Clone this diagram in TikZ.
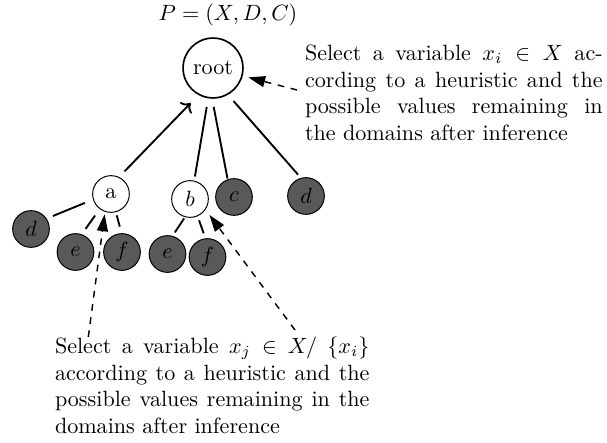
\documentclass[tikz,border=0pt]{standalone}
\usetikzlibrary{arrows.meta}
\begin{document}
\begin{tikzpicture}[x=0.4525pt,y=-0.4525pt,
  every node/.style={inner sep=0pt, outer sep=0pt},
  rootnode/.style={circle,draw,line width=0.75pt,minimum size=27.1pt},
  opennode/.style={circle,draw,line width=0.45pt,minimum size=16.6pt,fill=white},
  donenode/.style={circle,draw,line width=0.45pt,minimum size=16.6pt,fill=black!65},
  edge/.style={line width=0.85pt},
  note/.style={dashed,line width=0.65pt,-{Triangle[length=7.6pt,width=5pt]}},
  txt/.style={align=justify, anchor=north west}]
\useasboundingbox (0,0) rectangle (607,442);

\node[rootnode] (root) at (213,68) {root};
\node[anchor=base] (P) at (228,20) {$P=(X,D,C)$};
\node[opennode] (a) at (111,194) {a};
\node[opennode] (b) at (190,199) {$b$};
\node[donenode] (c) at (234,197) {$c$};
\node[donenode] (dR) at (306,196) {$d$};
\node[donenode] (dL) at (31,229) {$d$};
\node[donenode] (e1) at (75.5,252) {$e$};
\node[donenode] (f1) at (122,252) {$f$};
\node[donenode] (e2) at (167.5,254) {$e$};
\node[donenode] (f2) at (207.5,257) {$f$};

\draw[edge,->,shorten <=3.8pt,shorten >=5.4pt] (a.65) -- (root.242);
\draw[edge,shorten <=4.3pt,shorten >=2.1pt] (root.261) -- (b.77);
\draw[edge,shorten <=4.1pt,shorten >=0.6pt] (root.268) -- (c.110);
\draw[edge,shorten <=4.1pt,shorten >=2.2pt] (root.299) -- (dR.105);
\draw[edge,shorten <=4.2pt,shorten >=3.3pt] (a.197) -- (dL.34);
\draw[edge,shorten <=3.8pt,shorten >=3.2pt] (a.233) -- (e1.71);
\draw[edge,shorten <=1.7pt,shorten >=3.3pt] (a.285) -- (f1.91);
\draw[edge,shorten <=0.9pt,shorten >=2.1pt] (b.255) -- (e2.75);
\draw[edge,shorten <=2.2pt,shorten >=2.6pt] (b.294) -- (f2.96);

\node[txt, text width=134.7pt] (rt) at (305,45) {Select a variable $x_i \in X$ according to a heuristic and the possible values remaining in the domains after inference};
\node[txt, text width=142.3pt] (bt) at (55,337) {Select a variable $x_j \in X/$ $\{x_i\}$ according to a heuristic and the possible values remaining in the domains after inference};

\coordinate (rtail) at (297,90);
\coordinate (atail) at (88.3,337);
\coordinate (btail) at (295,330);
\draw[note,shorten >=3pt] (rtail) -- (root.345);
\draw[note,shorten >=1.4pt] (atail) -- (a.251);
\draw[note,shorten >=3.2pt] (btail) -- (b.326);
\end{tikzpicture}
\end{document}
